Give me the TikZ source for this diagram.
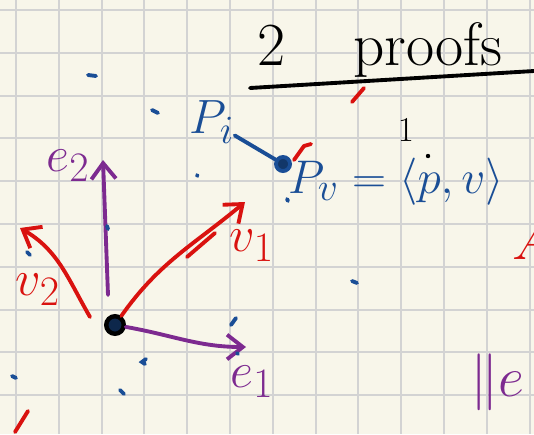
\documentclass[tikz,border=0pt]{standalone}
\usetikzlibrary{arrows.meta}
\definecolor{paper}{HTML}{F8F6EA}
\definecolor{gridgray}{HTML}{D3D3D3}
\definecolor{penblue}{HTML}{1A4E96}
\definecolor{penred}{HTML}{D9120F}
\definecolor{penpurple}{HTML}{7D2A90}
\begin{document}
\begin{tikzpicture}[
  x=0.02cm, y=-0.02cm,
  ink/.style={line width=2.2pt, line cap=round, line join=round},
  speck/.style={penblue, line width=2.2pt, line cap=round},
  hand/.style={font=\Huge, inner sep=0pt},
  barb/.style={-{Straight Barb[length=9pt,width=14pt,line width=2.2pt]}}
]
\fill[paper] (0,0) rectangle (534,434);
\useasboundingbox (0,0) rectangle (534,434);
\foreach \i in {0,...,12}
  \draw[gridgray, line width=1.1pt] (16+42.8*\i,0) -- (16+42.8*\i,434);
\foreach \j in {0,...,9}
  \draw[gridgray, line width=1.1pt] (0,10+42.8*\j) -- (534,10+42.8*\j);

\node[hand, black, scale=1.4] (two) at (272,46) {$2$};
\node[hand, black, scale=1.4] (proofs) at (428,50) {$\mathrm{proofs}$};
\coordinate (ruleA) at (250,88);
\coordinate (ruleB) at (534,71);
\draw[ink, black] (ruleA) -- (ruleB);

\node[hand, penblue, scale=1.1] (pi) at (212,122) {$P_i$};
\node[circle, draw=penblue, fill=penblue!70!black, line width=2.2pt, minimum size=8pt, inner sep=0pt] (pdot) at (283,164) {};
\draw[ink, penblue] (pi) -- (pdot);
\node[hand, penblue, scale=1.08] (pv) at (396,182) {$P_v = \langle p, v\rangle$};
\node[hand, black, scale=0.8] (one) at (406,130) {$1$};

\node[circle, draw=black, fill=penblue!50!black, line width=2.5pt, minimum size=10pt, inner sep=0pt] (o) at (115,325) {};
\coordinate (e2tip) at (103,160);
\coordinate (e1tip) at (246,347);
\coordinate (v1tip) at (245,202);
\coordinate (v2start) at (90,317);
\coordinate (v2tip) at (20,228);

\draw[ink, penpurple, barb] (108,295) -- (e2tip);
\draw[ink, penpurple, barb] (o) to[out=-10, in=180] (e1tip);
\draw[ink, penred, barb] (o) to[out=55, in=220] (v1tip);
\draw[ink, penred] (187,257) -- (215,233);
\draw[ink, penred, barb] (v2start) to[out=120, in=-30] (v2tip);

\node[hand, penpurple, scale=1.15] (e2) at (68,166) {$e_2$};
\node[hand, penpurple, scale=1.15] (e1) at (252,382) {$e_1$};
\node[hand, penred, scale=1.15] (v1) at (252,246) {$v_1$};
\node[hand, penred, scale=1.15] (v2) at (38,290) {$v_2$};
\node[hand, penpurple, anchor=west, scale=1.3] (norme) at (470,382) {$\|e$};
\node[hand, penred, anchor=west, scale=1.3] (bigA) at (512,240) {$A$};

\draw[ink, penred] (352,102) -- (364,88);
\draw[ink, penred] (294,160) -- (304,146) -- (311,144);
\draw[ink, penred] (15,432) -- (28,411);

\draw[speck] (88,75) -- (96,76);
\draw[speck] (152,110) -- (158,113);
\draw[speck] (197,175) -- (197.5,176);
\draw[speck] (107,226) -- (108,229);
\draw[speck] (27,252) -- (30,255);
\draw[speck] (287,199) -- (288,201);
\draw[speck] (352,281) -- (357,283);
\draw[speck] (231,325) -- (236,318);
\draw[speck] (237,353) -- (238,354);
\draw[speck] (146,359) -- (142,362) -- (145,364);
\draw[speck] (12,376) -- (16,378);
\draw[speck] (120,390) -- (124,394);
\fill[black] (428,156) circle (2.2);
\end{tikzpicture}
\end{document}
